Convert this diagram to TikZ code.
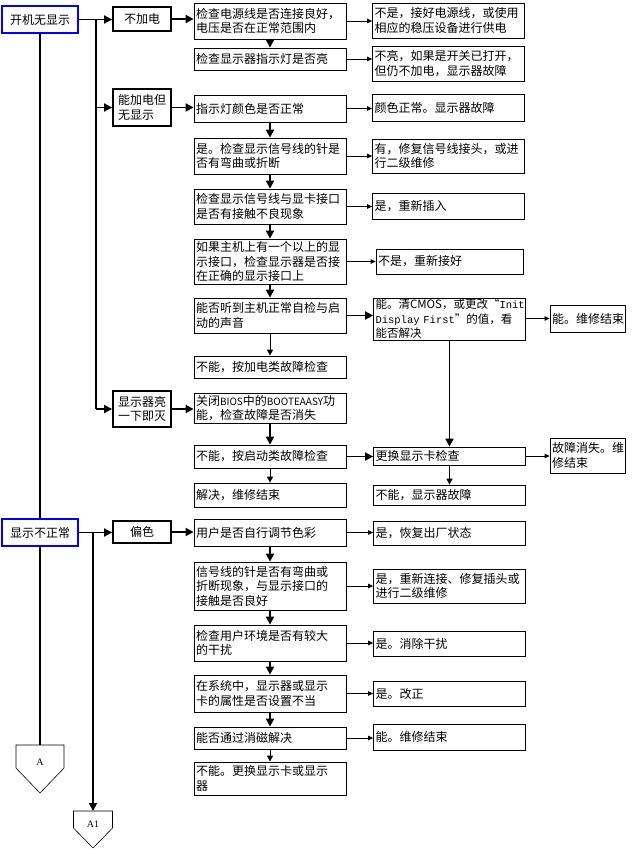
\documentclass[tikz,border=0pt]{standalone}
\usepackage{fontspec}
\setmainfont{Noto Sans CJK SC}
\newfontfamily\monofont{Liberation Mono}
\newfontfamily\latinfont{Liberation Serif}
\usetikzlibrary{arrows.meta}

\tikzset{
  rootbox/.style={draw=blue, line width=1.8pt, minimum width=76pt, minimum height=27pt, inner sep=1pt},
  kindbox/.style={draw, line width=1.8pt, minimum width=58pt, inner sep=1pt, align=left},
  stepbox/.style={draw, line width=0.8pt, text width=148pt, inner xsep=2pt, inner ysep=1pt, align=left},
  endbox/.style={stepbox, text width=71pt},
  trunk/.style={line width=1.8pt},
  main/.style={line width=1.8pt, -{Triangle[length=8pt,width=8pt]}},
  down/.style={line width=1pt, -{Triangle[length=6pt,width=6pt]}},
  side/.style={line width=0.8pt, -{Triangle[length=5pt,width=4.5pt]}}
}
\newcommand\latinsmall{\fontsize{10}{14.5}\selectfont}

\begin{document}
\begin{tikzpicture}[x=1pt, y=-1pt, font=\fontsize{12}{14.5}\selectfont]
\useasboundingbox (0,0) rectangle (635,850);

% 故障类别
\node[rootbox] (r1) at (40,19.5) {开机无显示};
\node[rootbox] (r2) at (40,532.5) {显示不正常};
\node[kindbox, minimum height=24pt] (k1) at (142,19) {不加电};
\node[kindbox, minimum height=37pt] (k2) at (142,107.5) {能加电但\\无显示};
\node[kindbox, minimum height=36pt] (k3) at (142,409) {显示器亮\\一下即灭};
\node[kindbox, minimum height=22pt] (k4) at (142,532) {偏色};

% 检查步骤
\node[stepbox, minimum height=36pt] (m1) at (270,21) {检查电源线是否连接良好，\\电压是否在正常范围内};
\node[stepbox, minimum height=22pt] (m2) at (270,59) {检查显示器指示灯是否亮};
\node[stepbox, minimum height=27pt] (m3) at (270,108.5) {指示灯颜色是否正常};
\node[stepbox, minimum height=36pt] (m4) at (270,156) {是。检查显示信号线的针是\\否有弯曲或折断};
\node[stepbox, minimum height=35pt] (m5) at (270,206.5) {检查显示信号线与显卡接口\\是否有接触不良现象};
\node[stepbox, minimum height=45pt] (m6) at (270,261.5) {如果主机上有一个以上的显\\示接口，检查显示器是否接\\在正确的显示接口上};
\node[stepbox, minimum height=35pt] (m7) at (270,315.5) {能否听到主机正常自检与启\\动的声音};
\node[stepbox, minimum height=22pt] (m8) at (270,367) {不能，按加电类故障检查};
\node[stepbox, minimum height=30pt] (m9) at (270,408) {关闭{\latinsmall BIOS}中的{\latinsmall BOOTEAASY}功\\能，检查故障是否消失};
\node[stepbox, minimum height=23pt] (m10) at (270,456.5) {不能，按启动类故障检查};
\node[stepbox, minimum height=24pt] (m11) at (270,495) {解决，维修结束};
\node[stepbox, minimum height=27pt] (m12) at (270,532.5) {用户是否自行调节色彩};
\node[stepbox, minimum height=48pt] (m13) at (270,586) {信号线的针是否有弯曲或\\折断现象，与显示接口的\\接触是否良好};
\node[stepbox, minimum height=36pt] (m14) at (270,643) {检查用户环境是否有较大\\的干扰};
\node[stepbox, minimum height=37pt] (m15) at (270,693.5) {在系统中，显示器或显示\\卡的属性是否设置不当};
\node[stepbox, minimum height=22pt] (m16) at (270,738) {能否通过消磁解决};
\node[stepbox, minimum height=33pt] (m17) at (270,778.5) {不能。更换显示卡或显示\\器};

% 处理结果
\node[stepbox, minimum height=35pt] (s1) at (448.5,20.5) {不是，接好电源线，或使用\\相应的稳压设备进行供电};
\node[stepbox, minimum height=35pt] (s2) at (448.5,63.5) {不亮，如果是开关已打开，\\但仍不加电，显示器故障};
\node[stepbox, minimum height=27pt] (s3) at (448.5,107.5) {颜色正常。显示器故障};
\node[stepbox, minimum height=34pt] (s4) at (448.5,156) {有，修复信号线接头，或进\\行二级维修};
\node[stepbox, minimum height=26pt] (s5) at (448.5,206) {是，重新插入};
\node[stepbox, text width=143pt, minimum height=25pt] (s6) at (449.5,261.5) {不是，重新接好};
\node[stepbox, minimum height=42pt, font=\fontsize{11.5}{14.5}\selectfont] (s7) at (449.5,319) {能。清CMOS，或更改“{\monofont\fontsize{10.5}{14.5}\selectfont Init}\\{\monofont\fontsize{10.5}{14.5}\selectfont Display First}”的值，看\\能否解决};
\node[stepbox, minimum height=18pt] (s8) at (449.5,456) {更换显示卡检查};
\node[stepbox, minimum height=20pt] (s9) at (449.5,495) {不能，显示器故障};
\node[stepbox, minimum height=24pt] (s10) at (449.5,533) {是，恢复出厂状态};
\node[stepbox, minimum height=34pt] (s11) at (449.5,586) {是，重新连接、修复插头或\\进行二级维修};
\node[stepbox, minimum height=25pt] (s12) at (449.5,643.5) {是。消除干扰};
\node[stepbox, minimum height=25pt] (s13) at (449.5,693.5) {是。改正};
\node[stepbox, minimum height=26pt] (s14) at (449.5,737) {能。维修结束};
\node[endbox, minimum height=27pt] (f1) at (587.5,318.5) {能。维修结束};
\node[endbox, minimum height=35pt] (f2) at (587.5,455.5) {故障消失。维\\修结束};

% 转接符号
\coordinate (pa) at (40,745);
\coordinate (pb) at (93,811);
\draw[line width=0.6pt] (pa) ++(-24,0) -- ++(48,0) -- ++(0,23) -- ++(-24,25) -- ++(-24,-25) -- cycle;
\draw[line width=0.6pt] (pb) ++(-19.5,0) -- ++(39,0) -- ++(0,17) -- ++(-19.5,20) -- ++(-19.5,-20) -- cycle;
\node[font=\latinfont\fontsize{10}{12}\selectfont] (ta) at (40,762) {A};
\node[font=\latinfont\fontsize{10}{12}\selectfont] (tb) at (93,824) {A1};

% 主干与分支
\coordinate (b1) at (96,19.5);
\coordinate (b2) at (93,532.5);
\draw[trunk] (r1.south) -- (r2.north);
\draw[trunk] (r2.south) -- (pa);
\draw[trunk] (b1) -- (b1 |- k3);
\draw[main] (r1.east) -- (r1.east -| k1.west);
\draw[main] (b1 |- k2) -- (k2.west);
\draw[main] (b1 |- k3) -- (k3.west);
\draw[main] (r2.east) -- (r2.east -| k4.west);
\draw[main] (b2) -- (pb);

\draw[main] (k1.east) -- (k1.east -| m1.west);
\draw[main] (k2.east) -- (k2.east -| m3.west);
\draw[main] (k3.east) -- (k3.east -| m9.west);
\draw[main] (k4.east) -- (k4.east -| m12.west);

% 纵向流程
\draw[main] (m1) -- (m2);
\draw[main] (m3) -- (m4);
\draw[main] (m4) -- (m5);
\draw[main] (m5) -- (m6);
\draw[main] (m6) -- (m7);
\draw[down] (m7) -- (m8);
\draw[main] (m9) -- (m10);
\draw[down] (m10) -- (m11);
\draw[main] (m12) -- (m13);
\draw[main] (m13) -- (m14);
\draw[main] (m14) -- (m15);
\draw[main] (m15) -- (m16);
\draw[down] (m16) -- (m17);
\draw[main] (s7.south) -- (s7.south |- s8.north);
\draw[down] (s8.south) -- (s8.south |- s9.north);

% 横向结果
\draw[side] (m1.east) -- (m1.east -| s1.west);
\draw[side] (m2.east) -- (m2.east -| s2.west);
\draw[side] (m3.east) -- (m3.east -| s3.west);
\draw[side] (m4.east) -- (m4.east -| s4.west);
\draw[side] (m5.east) -- (m5.east -| s5.west);
\draw[side] (m6.east) -- (m6.east -| s6.west);
\draw[main] (m7.east) -- (m7.east -| s7.west);
\draw[side] (s7.east |- f1) -- (f1.west);
\draw[main] (m10.east) -- (m10.east -| s8.west);
\draw[side] (s8.east) -- (s8.east -| f2.west);
\draw[side] (m12.east) -- (m12.east -| s10.west);
\draw[side] (m13.east) -- (m13.east -| s11.west);
\draw[side] (m14.east) -- (m14.east -| s12.west);
\draw[side] (m15.east) -- (m15.east -| s13.west);
\draw[side] (m16.east) -- (m16.east -| s14.west);
\end{tikzpicture}
\end{document}
